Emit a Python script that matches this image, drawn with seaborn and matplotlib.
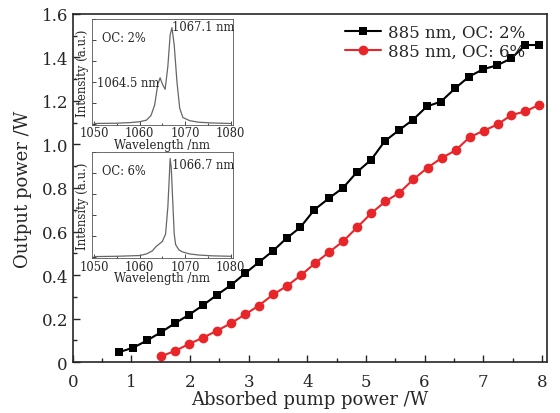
import numpy as np
import pandas as pd
import matplotlib
matplotlib.use("Agg")
import matplotlib.pyplot as plt
import seaborn as sns
from matplotlib.ticker import MultipleLocator

# 吸収ポンプパワーと出力 (OC 2%)
pump_2 = [0.78, 1.03, 1.27, 1.51, 1.74, 1.98, 2.22, 2.46, 2.70, 2.94, 3.17,
          3.41, 3.65, 3.88, 4.12, 4.37, 4.61, 4.85, 5.09, 5.32, 5.56, 5.80,
          6.04, 6.28, 6.52, 6.76, 7.00, 7.24, 7.48, 7.72, 7.96]
out_2 = [0.045, 0.066, 0.100, 0.138, 0.178, 0.217, 0.261, 0.309, 0.354, 0.408,
         0.458, 0.510, 0.570, 0.619, 0.700, 0.753, 0.801, 0.874, 0.930, 1.015,
         1.065, 1.113, 1.175, 1.197, 1.258, 1.312, 1.346, 1.364, 1.396, 1.457,
         1.457]

# 吸収ポンプパワーと出力 (OC 6%)
pump_6 = [1.50, 1.75, 1.98, 2.22, 2.46, 2.70, 2.94, 3.17, 3.42, 3.66, 3.90,
          4.13, 4.37, 4.61, 4.85, 5.09, 5.33, 5.57, 5.81, 6.05, 6.29, 6.53,
          6.77, 7.01, 7.25, 7.48, 7.72, 7.96]
out_6 = [0.026, 0.052, 0.083, 0.112, 0.144, 0.179, 0.219, 0.259, 0.311, 0.351,
         0.401, 0.454, 0.505, 0.555, 0.619, 0.684, 0.738, 0.778, 0.840, 0.893,
         0.938, 0.973, 1.034, 1.063, 1.093, 1.135, 1.152, 1.183]

# スペクトル (OC 2%)
wl_2 = [1050, 1055, 1058, 1060, 1061.5, 1062.5, 1063.3, 1064.0, 1064.5, 1065.0,
        1065.6, 1066.2, 1066.7, 1067.1, 1067.6, 1068.2, 1068.8, 1069.5, 1071,
        1073, 1076, 1080]
int_2 = [0.003, 0.006, 0.012, 0.020, 0.035, 0.080, 0.180, 0.380, 0.440, 0.380,
         0.330, 0.550, 0.850, 0.920, 0.750, 0.400, 0.150, 0.060, 0.030, 0.015,
         0.008, 0.003]

# スペクトル (OC 6%)
wl_6 = [1050, 1055, 1060, 1061.5, 1062.8, 1063.6, 1064.3, 1065.0, 1065.7,
        1066.2, 1066.5, 1066.7, 1066.95, 1067.2, 1067.6, 1067.9, 1068.6, 1069.4,
        1071, 1073, 1076, 1080]
int_6 = [0.005, 0.008, 0.015, 0.030, 0.060, 0.100, 0.125, 0.150, 0.220, 0.480,
         0.750, 0.940, 0.850, 0.600, 0.220, 0.120, 0.070, 0.050, 0.030, 0.020,
         0.012, 0.008]

sns.set_style("ticks")
plt.rcParams["font.family"] = ["DejaVu Serif"]
plt.rcParams["xtick.direction"] = "in"
plt.rcParams["ytick.direction"] = "in"

fig = plt.figure(figsize=(5.6, 4.14), dpi=100)
ax = fig.add_axes([0.130, 0.123, 0.847, 0.841])

df2 = pd.DataFrame({"pump": pump_2, "out": out_2})
df6 = pd.DataFrame({"pump": pump_6, "out": out_6})

sns.lineplot(data=df2, x="pump", y="out", ax=ax, color="black", lw=1.5,
             marker="s", markersize=6, markeredgewidth=0,
             label="885 nm, OC: 2%")
sns.lineplot(data=df6, x="pump", y="out", ax=ax, color="#e8262a", lw=1.5,
             marker="o", markersize=7, markeredgewidth=0,
             label="885 nm, OC: 6%")

ax.set_xlim(0, 8.09)
ax.set_ylim(0, 1.6)
ax.xaxis.set_minor_locator(MultipleLocator(0.5))
ax.yaxis.set_minor_locator(MultipleLocator(0.1))
ax.set_xticks(range(0, 9))
ax.set_xticklabels([str(i) for i in range(0, 9)])
ax.set_yticks([0, 0.2, 0.4, 0.6, 0.8, 1.0, 1.2, 1.4, 1.6])
ax.set_yticklabels(["0", "0.2", "0.4", "0.6", "0.8", "1.0", "1.2", "1.4", "1.6"])
ax.tick_params(which="major", length=5, width=1, labelsize=12)
ax.tick_params(axis="x", which="major", pad=8)
ax.tick_params(which="minor", length=3, width=1)
for s in ax.spines.values():
    s.set_linewidth(1.2)
ax.set_xlabel("Absorbed pump power /W", fontsize=13, labelpad=0)
ax.set_ylabel("Output power /W", fontsize=13, labelpad=7)
ax.legend(loc="upper right", frameon=False, fontsize=12,
          handlelength=2.2, handletextpad=0.4, labelspacing=0.1,
          borderaxespad=0.2, bbox_to_anchor=(0.975, 1.0))

# 挿入グラフ
insets = [
    ([0.164, 0.696, 0.252, 0.255], wl_2, int_2, "OC: 2%",
     [("1067.1 nm", 1067.1, 0.93), ("1064.5 nm", 1050.6, 0.40)]),
    ([0.164, 0.374, 0.252, 0.256], wl_6, int_6, "OC: 6%",
     [("1066.7 nm", 1067.0, 0.88)]),
]
for pos, wl, inten, oc, notes in insets:
    ia = fig.add_axes(pos)
    sns.lineplot(x=wl, y=inten, ax=ia, color="#666666", lw=0.9)
    ia.set_xlim(1049.5, 1080.5)
    ia.set_ylim(-0.01, 1.0)
    ia.set_xticks([1050, 1060, 1070, 1080])
    ia.xaxis.set_minor_locator(MultipleLocator(5))
    ia.yaxis.set_major_locator(MultipleLocator(0.2))
    ia.set_yticklabels([])
    ia.tick_params(which="major", length=3, width=0.6, labelsize=8.3, pad=1)
    ia.tick_params(which="minor", length=1.5, width=0.6)
    for s in ia.spines.values():
        s.set_linewidth(0.6)
        s.set_color("#555555")
    ia.set_xlabel("Wavelength /nm", fontsize=8.5, labelpad=-1)
    ia.set_ylabel("Intensity (a.u.)", fontsize=8.5, labelpad=1)
    ia.text(0.07, 0.83, oc, transform=ia.transAxes, fontsize=8.3,
            va="center", ha="left")
    for txt, x, y in notes:
        ia.text(x, y, txt, fontsize=8.3, va="center", ha="left")

fig.savefig("out.png", dpi=100)
